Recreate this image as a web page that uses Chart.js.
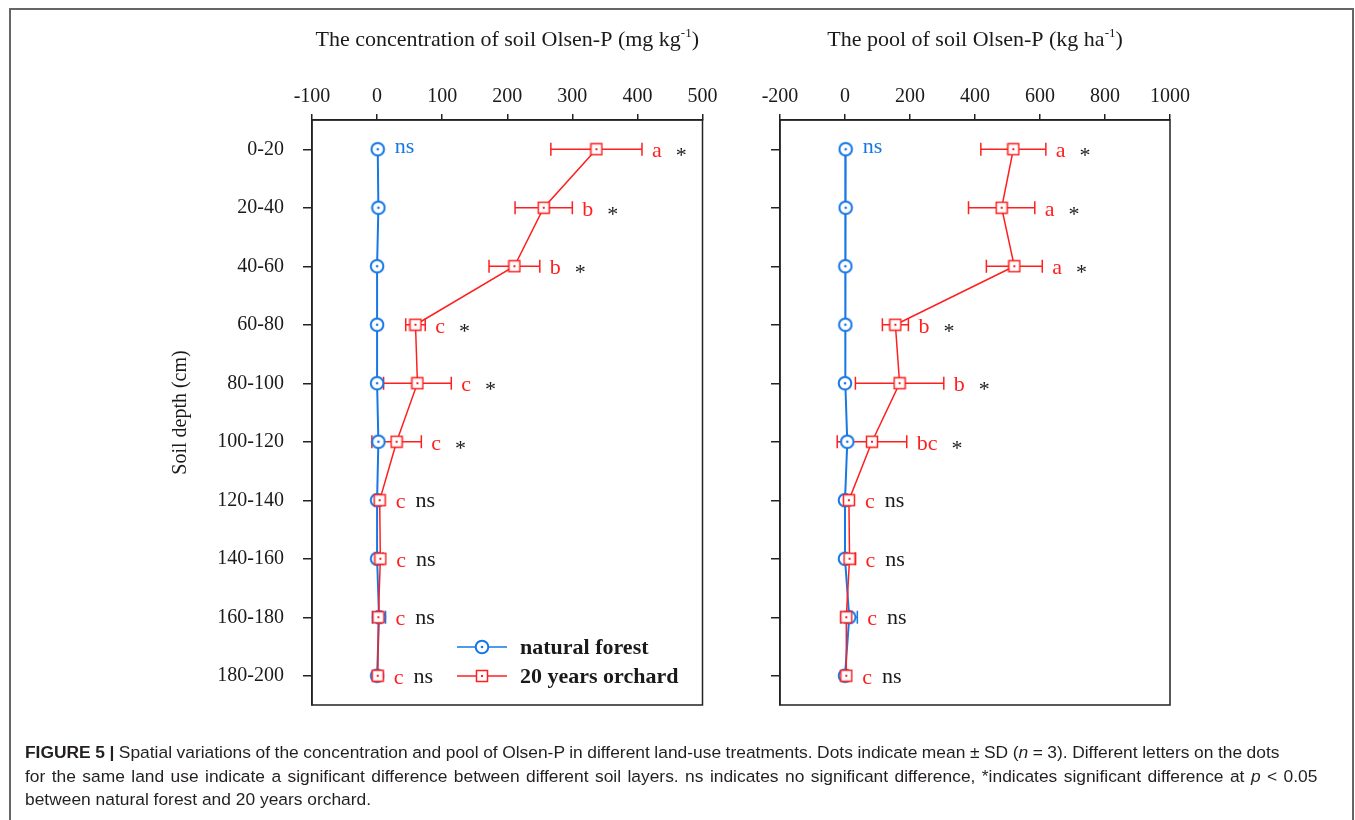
<!DOCTYPE html>
<html lang="en">
<head>
<meta charset="UTF-8">
<title>Olsen-P by soil depth</title>
<script src="https://cdn.jsdelivr.net/npm/chart.js"></script>
<style>
  body { margin: 0; background: #fff; width: 1355px; height: 820px; overflow: hidden; position: relative; }
  .frame { position: absolute; left: 9px; top: 8px; width: 1345px; height: 820px; border: 2px solid #666; border-bottom: none; box-sizing: border-box; }
  canvas { position: absolute; top: 0; }
  #concChart { left: 0; }
  #poolChart { left: 733px; }
  .caption { position: absolute; left: 25px; top: 741px; font-family: "Liberation Sans", Arial, sans-serif; font-size: 17.4px; line-height: 23.5px; color: #231f20; white-space: nowrap; }
  .l1 { word-spacing: -0.3px; }
  .l2 { word-spacing: 1.6px; }
</style>
</head>
<body>
<div class="frame"></div>
<canvas id="concChart" width="733" height="745"></canvas>
<canvas id="poolChart" width="622" height="745"></canvas>
<div class="caption"><span class="l1"><b>FIGURE 5 |</b> Spatial variations of the concentration and pool of Olsen-P in different land-use treatments. Dots indicate mean ± SD (<i>n</i> = 3). Different letters on the dots</span><br><span class="l2">for the same land use indicate a significant difference between different soil layers. ns indicates no significant difference, *indicates significant difference at <i>p</i> &lt; 0.05</span><br>between natural forest and 20 years orchard.</div>

<script>
const depthLabels = ['0-20', '20-40', '40-60', '60-80', '80-100', '100-120', '120-140', '140-160', '160-180', '180-200'];

// concentration, mg/kg
const forestConc = [1, 2, 0, 0, 0, 2, 0, 0, 3, 0];
const forestConcSd = [0, 0, 0, 0, 0, 0, 0, 0, 10, 0];
const orchardConc = [337, 256, 211, 59, 62, 30, 4, 5, 2, 1];
const orchardConcSd = [70, 44, 39, 15, 52, 38, 2, 4, 2, 1];
const concLetters = ['a', 'b', 'b', 'c', 'c', 'c', 'c', 'c', 'c', 'c'];

// pool, kg/ha
const forestPool = [2, 2, 1, 1, 0, 7, 0, 0, 13, 0];
const forestPoolSd = [0, 0, 0, 0, 0, 0, 0, 0, 25, 0];
const orchardPool = [518, 482, 521, 155, 168, 83, 12, 14, 4, 4];
const orchardPoolSd = [100, 102, 86, 40, 136, 107, 5, 18, 6, 5];
const poolLetters = ['a', 'a', 'a', 'b', 'b', 'bc', 'c', 'c', 'c', 'c'];

const compareMarks = ['*', '*', '*', '*', '*', '*', 'ns', 'ns', 'ns', 'ns'];
const forestMarks = ['ns', '', '', '', '', '', '', '', '', ''];

const BLUE = '#1677e5';
const RED = '#ff1f1f';
const INK = '#1a1a1a';
const SERIF = '"Liberation Serif", "Times New Roman", serif';

function circleMarker(color) {
    const c = document.createElement('canvas');
    c.width = c.height = 16;
    const g = c.getContext('2d');
    g.fillStyle = '#fff';
    g.strokeStyle = color;
    g.lineWidth = 2;
    g.beginPath(); g.arc(8, 8, 6.3, 0, Math.PI * 2); g.fill(); g.stroke();
    g.fillStyle = color;
    g.beginPath(); g.arc(8, 8, 1.3, 0, Math.PI * 2); g.fill();
    return c;
}

function squareMarker(color) {
    const c = document.createElement('canvas');
    c.width = c.height = 14;
    const g = c.getContext('2d');
    g.fillStyle = '#fff';
    g.strokeStyle = color;
    g.lineWidth = 1.5;
    g.fillRect(1.5, 1.5, 11, 11);
    g.strokeRect(1.5, 1.5, 11, 11);
    g.fillStyle = color;
    g.fillRect(6, 6, 2, 2);
    return c;
}

const circleImg = circleMarker(BLUE);
const squareImg = squareMarker(RED);

const errorBars = {
    id: 'errorBars',
    beforeDatasetsDraw(chart) {
        const ctx = chart.ctx, xs = chart.scales.x, ys = chart.scales.y;
        chart.data.datasets.forEach(ds => {
            ctx.save();
            ctx.strokeStyle = ds.borderColor;
            ctx.lineWidth = 1.5;
            ds.data.forEach((v, i) => {
                const sd = ds.sd[i];
                if (!sd) return;
                const y = ys.getPixelForValue(i);
                const x1 = xs.getPixelForValue(v - sd);
                const x2 = xs.getPixelForValue(v + sd);
                ctx.beginPath();
                ctx.moveTo(x1, y); ctx.lineTo(x2, y);
                ctx.moveTo(x1, y - 6.5); ctx.lineTo(x1, y + 6.5);
                ctx.moveTo(x2, y - 6.5); ctx.lineTo(x2, y + 6.5);
                ctx.stroke();
            });
            ctx.restore();
        });
    }
};

const notes = {
    id: 'notes',
    afterDatasetsDraw(chart, args, opts) {
        const ctx = chart.ctx, xs = chart.scales.x, ys = chart.scales.y;
        const [forest, orchard] = chart.data.datasets;
        ctx.save();
        ctx.textBaseline = 'middle';
        ctx.textAlign = 'left';
        depthLabels.forEach((_, i) => {
            const y = ys.getPixelForValue(i);
            const end = Math.max(
                xs.getPixelForValue(orchard.data[i] + orchard.sd[i]),
                xs.getPixelForValue(orchard.data[i]) + 6,
                xs.getPixelForValue(forest.data[i] + forest.sd[i]));
            let x = end + 10;
            ctx.font = '22px ' + SERIF;
            ctx.fillStyle = RED;
            ctx.fillText(opts.letters[i], x, y + 2);
            x += ctx.measureText(opts.letters[i]).width + 10;
            ctx.fillStyle = INK;
            if (compareMarks[i] === '*') {
                ctx.font = '22px ' + SERIF;
                ctx.fillText('*', x + 4, y + 7);
            } else {
                ctx.fillText(compareMarks[i], x, y + 1);
            }
            if (forestMarks[i]) {
                ctx.font = '22px ' + SERIF;
                ctx.fillStyle = BLUE;
                ctx.fillText(forestMarks[i], xs.getPixelForValue(forest.data[i]) + 17, y - 2);
            }
        });
        ctx.restore();
    },
    afterDraw(chart, args, opts) {
        const ctx = chart.ctx, ca = chart.chartArea;
        ctx.save();
        // plot box
        ctx.strokeStyle = '#222';
        ctx.lineWidth = 1.5;
        ctx.strokeRect(ca.left, ca.top, ca.right - ca.left, ca.bottom - ca.top);

        // heading with superscript unit
        const [main, sup, tail] = opts.heading;
        ctx.fillStyle = INK;
        ctx.textBaseline = 'alphabetic';
        ctx.font = '22px ' + SERIF;
        const w1 = ctx.measureText(main).width, w3 = ctx.measureText(tail).width;
        ctx.font = '13px ' + SERIF;
        const w2 = ctx.measureText(sup).width;
        const hx = (ca.left + ca.right) / 2 - (w1 + w2 + w3) / 2;
        ctx.font = '22px ' + SERIF;
        ctx.fillText(main, hx, 46);
        ctx.font = '13px ' + SERIF;
        ctx.fillText(sup, hx + w1, 37);
        ctx.font = '22px ' + SERIF;
        ctx.fillText(tail, hx + w1 + w2, 46);

        if (opts.legend) {
            const rows = [
                { img: circleImg, color: BLUE, text: 'natural forest', y: ca.bottom - 58 },
                { img: squareImg, color: RED, text: '20 years orchard', y: ca.bottom - 29 }
            ];
            const lx = ca.left + 145;
            rows.forEach(r => {
                ctx.strokeStyle = r.color;
                ctx.lineWidth = 1.5;
                ctx.beginPath(); ctx.moveTo(lx, r.y); ctx.lineTo(lx + 50, r.y); ctx.stroke();
                ctx.drawImage(r.img, lx + 25 - r.img.width / 2, r.y - r.img.height / 2);
                ctx.fillStyle = INK;
                ctx.font = 'bold 22px ' + SERIF;
                ctx.textBaseline = 'middle';
                ctx.fillText(r.text, lx + 63, r.y + 1);
            });
        }
        ctx.restore();
    }
};

function makeChart(id, cfg) {
    return new Chart(document.getElementById(id), {
        type: 'line',
        data: {
            labels: depthLabels,
            datasets: [
                { label: 'natural forest', data: cfg.forest, sd: cfg.forestSd, borderColor: BLUE, borderWidth: 2, pointStyle: circleImg, pointRadius: 7, order: 2 },
                { label: '20 years orchard', data: cfg.orchard, sd: cfg.orchardSd, borderColor: RED, borderWidth: 1.5, pointStyle: squareImg, pointRadius: 7, order: 1 }
            ]
        },
        options: {
            responsive: false,
            animation: false,
            indexAxis: 'y',
            layout: { padding: cfg.padding },
            plugins: {
                legend: { display: false },
                tooltip: { enabled: false },
                notes: { letters: cfg.letters, heading: cfg.heading, legend: cfg.legend }
            },
            scales: {
                x: {
                    type: 'linear',
                    position: 'top',
                    min: cfg.min,
                    max: cfg.max,
                    ticks: { stepSize: cfg.step, color: INK, font: { family: SERIF, size: 20 }, padding: 5, callback: v => String(v) },
                    grid: { drawOnChartArea: false, tickLength: 6, color: '#222', lineWidth: 1.5 },
                    border: { color: '#222', width: 1.5 },
                    afterFit: s => { s.height = 120; }
                },
                y: {
                    type: 'category',
                    offset: true,
                    ticks: { display: cfg.showDepth, color: INK, font: { family: SERIF, size: 20 }, padding: 19 },
                    grid: { drawOnChartArea: false, tickLength: 9, color: '#222', lineWidth: 1.5 },
                    border: { color: '#222', width: 1.5 },
                    title: { display: cfg.showDepth, text: 'Soil depth (cm)', color: INK, font: { family: SERIF, size: 20 }, padding: { top: 169 } },
                    afterFit: s => { s.width = cfg.axisWidth; }
                }
            }
        },
        plugins: [errorBars, notes]
    });
}

makeChart('concChart', {
    forest: forestConc, forestSd: forestConcSd,
    orchard: orchardConc, orchardSd: orchardConcSd,
    letters: concLetters,
    heading: ['The concentration of soil Olsen-P (mg kg', '-1', ')'],
    min: -100, max: 500, step: 100,
    showDepth: true, axisWidth: 312, legend: true,
    padding: { top: 0, left: 0, right: 30.5, bottom: 40 }
});

makeChart('poolChart', {
    forest: forestPool, forestSd: forestPoolSd,
    orchard: orchardPool, orchardSd: orchardPoolSd,
    letters: poolLetters,
    heading: ['The pool of soil Olsen-P (kg ha', '-1', ')'],
    min: -200, max: 1000, step: 200,
    showDepth: false, axisWidth: 47, legend: false,
    padding: { top: 0, left: 0, right: 185, bottom: 40 }
});
</script>
</body>
</html>
